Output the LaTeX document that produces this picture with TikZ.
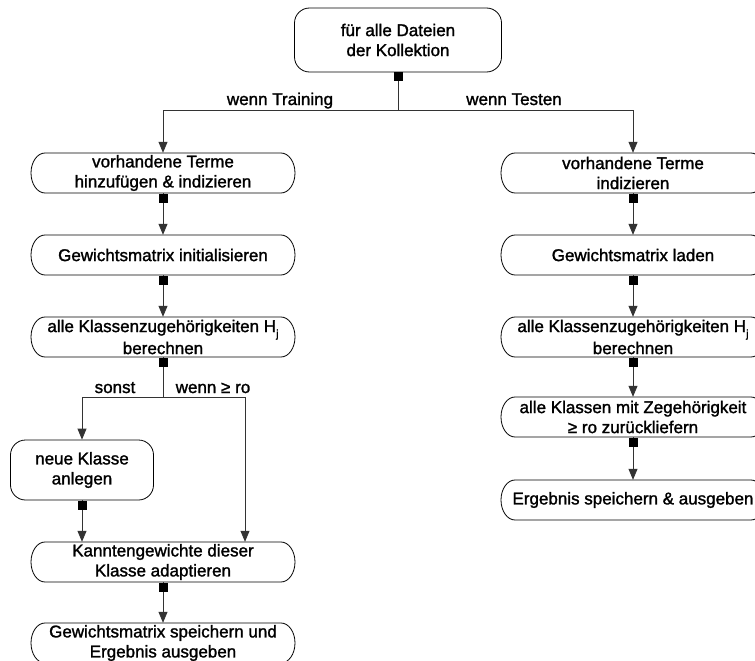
\documentclass[tikz,border=0pt]{standalone}
\usepackage{fontspec}
\setmainfont{Liberation Sans}[FakeBold=1.5]
\usetikzlibrary{arrows.meta}

% capsule outline around a node: name, half width (half height 20, end radius 14)
\newcommand\capsuleoutline[2]{%
  \draw[outline] ([shift={(-#2+14,20)}]#1.center) -- ([shift={(#2-14,20)}]#1.center)
    arc[start angle=90,end angle=-90,x radius=14,y radius=20]
    -- ([shift={(-#2+14,-20)}]#1.center)
    arc[start angle=270,end angle=90,x radius=14,y radius=20] -- cycle;}
\newcommand\Hj{H\raisebox{-0.6ex}{\fontsize{11}{11}\selectfont j}}

\begin{document}
\begin{tikzpicture}[x=1pt,y=1pt,
  outline/.style={draw=black,line width=0.8pt},
  txt/.style={font=\fontsize{17}{20}\selectfont,align=center,inner sep=0pt},
  capsulebox/.style={txt,minimum width=264pt,minimum height=40pt},
  capsulewide/.style={capsulebox,font=\fontsize{17}{22}\selectfont},
  roundbox/.style={txt,outline,rounded corners=15pt},
  lbl/.style={font=\fontsize{17}{20}\selectfont,inner sep=0pt,anchor=base},
  sq/.style={fill=black,minimum size=9pt,inner sep=0pt},
  conn/.style={draw=black!80,line width=0.8pt},
  arr/.style={conn,-{Triangle[length=11pt,width=9pt]}}
]
\fill[white] (0,0) rectangle (755,-661);
\useasboundingbox (0,0) rectangle (755,-661);

% start
\node[roundbox,minimum width=207pt,minimum height=64pt] (top) at (398,-40)
  {für alle Dateien\\der Kollektion};
\coordinate (split) at (398,-110);

% training branch
\node[capsulebox] (n1) at (163,-173) {vorhandene Terme\\hinzufügen \& indizieren};
\node[capsulebox] (n2) at (163,-255) {Gewichtsmatrix initialisieren};
\node[capsulewide] (n3) at (163,-337) {alle Klassenzugehörigkeiten \Hj\\berechnen};
\node[roundbox,minimum width=143pt,minimum height=60pt] (neu) at (82,-470)
  {neue Klasse\\anlegen};
\node[capsulebox] (kan) at (163,-562) {Kanntengewichte dieser\\Klasse adaptieren};
\node[capsulebox] (last) at (163,-643) {Gewichtsmatrix speichern und\\Ergebnis ausgeben};
\coordinate (b) at (163,-397);
\coordinate (bl) at (82,-397);
\coordinate (bw) at (245,-397);

% test branch
\node[capsulebox] (r1) at (633,-173) {vorhandene Terme\\indizieren};
\node[capsulebox] (r2) at (633,-255) {Gewichtsmatrix laden};
\node[capsulewide] (r3) at (633,-337) {alle Klassenzugehörigkeiten \Hj\\berechnen};
\node[capsulebox] (r4) at (633,-417) {alle Klassen mit Zegehörigkeit\\≥ ro zurückliefern};
\node[capsulebox] (r5) at (633,-500) {Ergebnis speichern \& ausgeben};

\foreach \n in {n1,n2,n3,kan,last,r1,r2,r3,r4,r5} {\capsuleoutline{\n}{132}}

% connectors
\draw[conn] (top) -- (split);
\draw[arr] (split) -| (n1);
\draw[arr] (split) -| (r1);
\draw[arr] (n1) -- (n2);
\draw[arr] (n2) -- (n3);
\draw[conn] (n3) -- (b);
\draw[conn] (bl) -- (bw);
\draw[arr] (bl) -- (neu);
\draw[arr] (bw) -- (bw |- kan.north);
\draw[arr] (neu) -- (neu |- kan.north);
\draw[arr] (kan) -- (last);
\draw[arr] (r1) -- (r2);
\draw[arr] (r2) -- (r3);
\draw[arr] (r3) -- (r4);
\draw[arr] (r4) -- (r5);

% branch labels
\node[lbl] (lt) at (280,-105) {wenn Training};
\node[lbl] (lte) at (514,-105) {wenn Testen};
\node[lbl] (ls) at (115,-393) {sonst};
\node[lbl] (lw) at (213,-393) {wenn ≥ ro};

% markers below the boxes
\node[sq] (s0) at ([yshift=-37]top.center) {};
\foreach \n in {n1,n2,n3,kan,r1,r2,r3,r4} {\node[sq] (s\n) at ([yshift=-25]\n.center) {};}
\node[sq] (sneu) at ([yshift=-35]neu.center) {};
\end{tikzpicture}
\end{document}
